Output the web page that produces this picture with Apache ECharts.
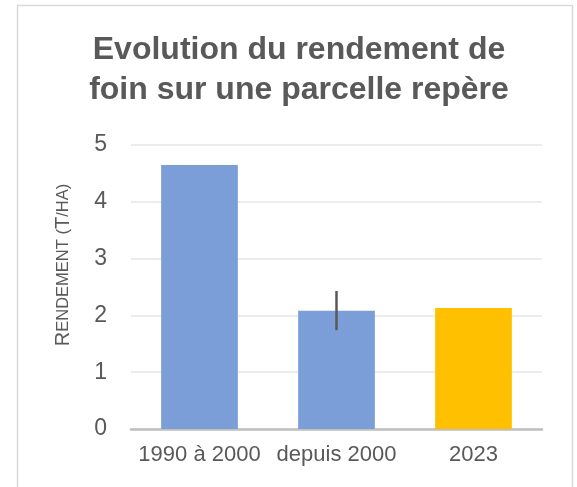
<!DOCTYPE html>
<html>
<head>
<meta charset="utf-8">
<script src="https://cdn.jsdelivr.net/npm/echarts@6/dist/echarts.min.js"></script>
<style>
  html, body { margin: 0; padding: 0; background: #fff; }
  #chart { width: 577px; height: 487px; }
</style>
</head>
<body>
<div id="chart"></div>
<script>
const categories = ['1990 à 2000', 'depuis 2000', '2023'];
const yields = [4.65, 2.08, 2.13];
const barColors = ['#7b9ed8', '#7b9ed8', '#ffc000'];
// error bar on "depuis 2000" only: [category index, low, high]
const errorBars = [[1, 1.74, 2.43]];
const yTicks = [0, 1, 2, 3, 4, 5];

const font = "'Liberation Sans Narrow', 'Arial Narrow', 'Liberation Sans', sans-serif";
const grey = '#595959';

const chart = echarts.init(document.getElementById('chart'), null, { renderer: 'canvas' });

chart.setOption({
  backgroundColor: '#fff',
  animation: false,
  title: {
    text: 'Evolution du rendement de\nfoin sur une parcelle repère',
    left: 294,
    textAlign: 'center',
    top: 25,
    textStyle: {
      fontFamily: font,
      fontSize: 32,
      fontWeight: 'bold',
      color: grey,
      lineHeight: 40
    }
  },
  graphic: [
    {
      type: 'rect',
      shape: { x: 17.5, y: 5.5, width: 555, height: 490 },
      style: { fill: 'none', stroke: '#d9d9d9', lineWidth: 1.5 },
      silent: true,
      z: -1
    },
    {
      type: 'text',
      x: 63,
      y: 265,
      rotation: Math.PI / 2,
      style: {
        text: '{b|R}{s|ENDEMENT (}{b|T}{s|/HA)}',
        align: 'center',
        verticalAlign: 'middle',
        rich: {
          b: { fontFamily: font, fontSize: 20, fill: grey, color: grey },
          s: { fontFamily: font, fontSize: 16.5, fill: grey, color: grey }
        }
      }
    }
  ],
  grid: { left: 131, right: 35, top: 145, bottom: 58 },
  xAxis: {
    type: 'category',
    data: categories,
    axisLine: { lineStyle: { color: '#bfbfbf', width: 2.5 } },
    axisTick: { show: false },
    axisLabel: { interval: 0, fontFamily: font, fontSize: 22, color: grey, margin: 15 }
  },
  yAxis: {
    type: 'value',
    min: 0,
    max: 5,
    interval: 1,
    axisLine: { show: false },
    axisTick: { show: false },
    splitLine: { lineStyle: { color: '#ececec', width: 2 } },
    axisLabel: {
      fontFamily: font,
      fontSize: 23,
      color: grey,
      margin: 24,
      formatter: (v) => (yTicks.includes(v) ? String(v) : '')
    }
  },
  series: [
    {
      type: 'bar',
      barWidth: '56%',
      data: yields.map((v, i) => ({ value: v, itemStyle: { color: barColors[i] } })),
      z: 2
    },
    {
      type: 'custom',
      data: errorBars,
      z: 3,
      renderItem: (params, api) => {
        const top = api.coord([api.value(0), api.value(2)]);
        const bottom = api.coord([api.value(0), api.value(1)]);
        return {
          type: 'line',
          shape: { x1: top[0], y1: top[1], x2: bottom[0], y2: bottom[1] },
          style: { stroke: grey, lineWidth: 2.5 }
        };
      }
    }
  ]
});
</script>
</body>
</html>
